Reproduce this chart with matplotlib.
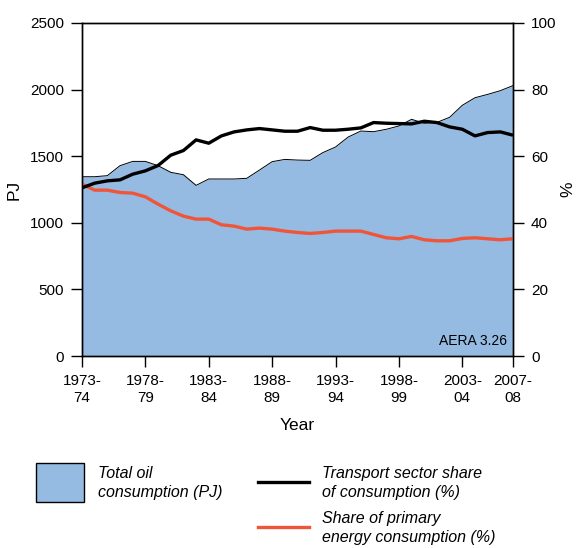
import matplotlib
matplotlib.use('Agg')
import matplotlib.pyplot as plt
from matplotlib.patches import Rectangle
from matplotlib.lines import Line2D

plt.rcParams['font.family'] = ['Liberation Sans', 'DejaVu Sans']

# financial years 1973-74 .. 2007-08
years = list(range(1973, 2008))

# total oil consumption (PJ)
oil_pj = [1346, 1346, 1354, 1429, 1461, 1461, 1429, 1379, 1361, 1281,
          1329, 1329, 1329, 1334, 1396, 1459, 1476, 1471, 1469, 1527,
          1569, 1644, 1689, 1684, 1702, 1727, 1777, 1747, 1754, 1792,
          1882, 1939, 1964, 1992, 2030]

# transport sector share of consumption (%)
transport_share = [50.5, 51.9, 52.6, 52.9, 54.6, 55.6, 57.2, 60.3, 61.7, 64.9,
                   63.9, 66.1, 67.3, 67.9, 68.3, 67.9, 67.5, 67.5, 68.6, 67.8,
                   67.8, 68.1, 68.5, 70.1, 69.9, 69.8, 69.7, 70.5, 70.1, 68.8,
                   68.1, 66.1, 67.1, 67.3, 66.3]

# share of primary energy consumption (%)
primary_share = [51.6, 49.8, 49.8, 49.1, 48.9, 47.8, 45.6, 43.6, 42.0, 41.1,
                 41.1, 39.4, 39.0, 38.1, 38.4, 38.1, 37.5, 37.1, 36.8, 37.1,
                 37.5, 37.5, 37.5, 36.5, 35.5, 35.2, 35.9, 34.9, 34.6, 34.6,
                 35.3, 35.5, 35.2, 34.9, 35.2]

tick_years = [1973, 1978, 1983, 1988, 1993, 1998, 2003, 2007]

blue = '#95bbe2'
red = '#f0553a'
fs = 11

fig = plt.figure(figsize=(5.77, 5.48), dpi=100)
ax = fig.add_axes([82 / 577, 1 - 356 / 548, 431 / 577, 333 / 548])

x = list(range(len(years)))
ax.fill_between(x, oil_pj, 0, color=blue, lw=0)
ax.plot(x, oil_pj, color='black', lw=0.7)
ax.set_xlim(0, len(years) - 1)
ax.set_ylim(0, 2500)
ax.set_yticks([0, 500, 1000, 1500, 2000, 2500])

tpos = [years.index(y) for y in tick_years]
tlab = ['%d-\n%02d' % (y, (y + 1) % 100) for y in tick_years]
ax.set_xticks(tpos)
ax.set_xticklabels(tlab, fontsize=fs, linespacing=1.3)
ax.set_xlabel('Year', fontsize=fs + 1.5, labelpad=9)
ax.set_ylabel('PJ', fontsize=fs + 1.5, labelpad=6)
ax.tick_params(axis='both', direction='out', length=8, width=1, labelsize=fs, pad=5)

ax2 = ax.twinx()
ax2.plot(x, primary_share, color=red, lw=2.4, solid_capstyle='butt')
ax2.plot(x, transport_share, color='black', lw=2.4, solid_capstyle='butt')
ax2.set_ylim(0, 100)
ax2.set_yticks([0, 20, 40, 60, 80, 100])
ax2.tick_params(axis='y', direction='out', length=8, width=1, labelsize=fs, pad=5)
ax2.set_ylabel('%', fontsize=fs + 1.5, labelpad=3)
ax2.set_xlim(0, len(years) - 1)

for a in (ax, ax2):
    for s in a.spines.values():
        s.set_linewidth(1)

ax2.text(0.985, 0.025, 'AERA 3.26', transform=ax2.transAxes, ha='right', va='bottom', fontsize=10)

# legend, drawn by hand in pixel space
def fx(px):
    return px / 577

def fy(py):
    return 1 - py / 548

lfs = 11.5
fig.patches.append(Rectangle((fx(36), fy(502)), fx(48), 39 / 548, transform=fig.transFigure,
                             facecolor=blue, edgecolor='black', lw=1))
fig.text(fx(98), fy(466), 'Total oil\nconsumption (PJ)', fontsize=lfs, style='italic',
         va='top', ha='left', linespacing=1.3)
fig.lines.append(Line2D([fx(258), fx(309)], [fy(482), fy(482)], transform=fig.transFigure,
                        color='black', lw=2.4))
fig.text(fx(322), fy(466), 'Transport sector share\nof consumption (%)', fontsize=lfs,
         style='italic', va='top', ha='left', linespacing=1.3)
fig.lines.append(Line2D([fx(258), fx(309)], [fy(527), fy(527)], transform=fig.transFigure,
                        color=red, lw=2.4))
fig.text(fx(322), fy(511), 'Share of primary\nenergy consumption (%)', fontsize=lfs,
         style='italic', va='top', ha='left', linespacing=1.3)

fig.savefig('out.png', dpi=100)
